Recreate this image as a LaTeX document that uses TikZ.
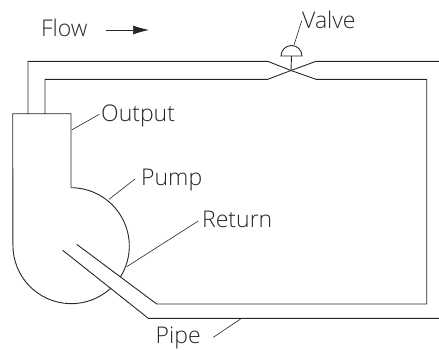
\documentclass[tikz,border=0pt]{standalone}
\usepackage{fontspec}
\setmainfont{Open Sans Light}
\usetikzlibrary{arrows.meta}
\tikzset{x=1pt,y=-1pt,
 pipeline/.style={line width=0.9pt,line join=miter,black!85},
 leader/.style={line width=0.6pt,black!85},
 lbl/.style={font=\fontsize{23}{26}\selectfont,inner sep=0pt,text=black!85,anchor=base west}}
\begin{document}
\begin{tikzpicture}
\useasboundingbox (0,0) rectangle (439,349);
\coordinate (vc) at (291,70.5);
\coordinate (po1) at (28,114);
\coordinate (po2) at (45,114);
% pipes
\draw[pipeline] (po1) -- (28,61.3) -- (267.7,61.3) -- (vc) -- (316,61.3) -- (439,61.3);
\draw[pipeline] (po2) -- (45,79.3) -- (267.7,79.3) -- (vc) -- (316,79.3) -- (426.7,79.3) -- (426.7,304) -- (156.7,304) -- (76.7,244.3);
\draw[pipeline] (62.7,250.3) -- (148.3,318.3) -- (439,318.3);
% valve
\draw[pipeline] (vc) -- (291.5,56);
\draw[pipeline] (281,56) arc[start angle=180,end angle=360,radius=10.5] -- cycle;
% pump
\draw[pipeline] (71,187.7) arc[start angle=-90,end angle=32,radius=58.3];
\draw[pipeline] (111,288) arc[start angle=47,end angle=180,radius=58.3] -- (12.7,113.7) -- (71,113.7) -- (71,187.7);
% leaders
\draw[leader] (71.7,130) -- (99.3,114.3);
\draw[leader] (109,199.3) -- (135,179);
\draw[leader] (126.7,266.7) -- (198.3,221);
\draw[leader] (241,318.7) -- (213.3,337.3);
\draw[leader] (294,45) -- (301.7,20.7);
% flow
\draw[line width=0.7pt,black!85,-{Latex[length=16pt,width=9pt]}] (105.5,30) -- (149,30);
% labels
\node[lbl] (flow) at (41,36) {Flow};
\node[lbl] (valve) at (302,28) {Valve};
\node[lbl] (output) at (101,121.7) {Output};
\node[lbl] (pump) at (141,185.7) {Pump};
\node[lbl] (return) at (202,227.7) {Return};
\node[lbl] (pipe) at (155.5,343) {Pipe};
\end{tikzpicture}
\end{document}
